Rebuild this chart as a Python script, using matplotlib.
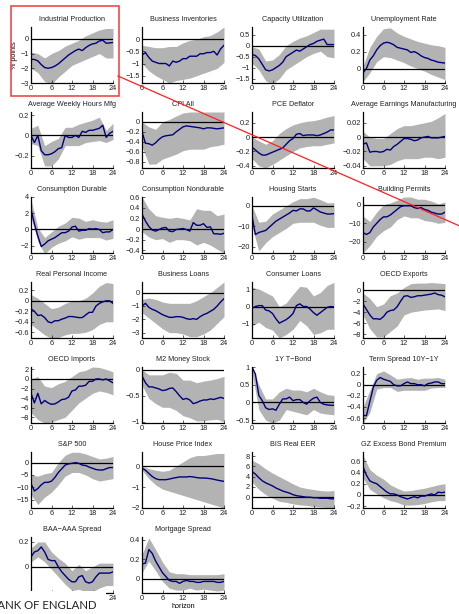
import matplotlib
matplotlib.use("Agg")
import matplotlib.pyplot as plt
from matplotlib.patches import Rectangle
from matplotlib.lines import Line2D

HORIZON = list(range(25))
BAND_H = list(range(0, 25, 2))

TITLES = [
    "Industrial Production", "Business Inventories", "Capacity Utilization", "Unemployment Rate",
    "Average Weekly Hours Mfg", "CPI All", "PCE Deflator", "Average Earnings Manufacturing",
    "Consumption Durable", "Consumption Nondurable", "Housing Starts", "Building Permits",
    "Real Personal Income", "Business Loans", "Consumer Loans", "OECD Exports",
    "OECD Imports", "M2 Money Stock", "1Y T\u2212Bond", "Term Spread 10Y\u22121Y",
    "S&P 500", "House Price Index", "BIS Real EER", "GZ Excess Bond Premium",
    "BAA\u2212AAA Spread", "Mortgage Spread",
]

# median impulse responses, horizons 0..24
IRF = [
    [-1.4, -1.4, -1.5, -1.75, -1.95, -2.0, -1.95, -1.85, -1.7, -1.5, -1.3, -1.1, -0.95, -0.8, -0.7, -0.8, -0.6, -0.45, -0.35, -0.3, -0.15, -0.1, -0.3, -0.28, -0.25],
    [-0.65, -0.55, -0.75, -0.9, -0.95, -1.0, -1.0, -1.0, -1.1, -0.9, -0.95, -0.9, -0.8, -0.8, -0.7, -0.7, -0.7, -0.6, -0.6, -0.55, -0.55, -0.5, -0.65, -0.4, -0.25],
    [-0.4, -0.45, -0.6, -0.85, -1.1, -1.15, -1.1, -1.0, -0.9, -0.75, -0.5, -0.4, -0.3, -0.2, -0.25, -0.15, -0.05, 0.05, 0.1, 0.2, 0.25, 0.3, 0.05, 0.05, 0.05],
    [-0.05, 0.0, 0.1, 0.15, 0.22, 0.27, 0.3, 0.31, 0.3, 0.28, 0.25, 0.24, 0.23, 0.22, 0.19, 0.2, 0.18, 0.15, 0.13, 0.12, 0.1, 0.09, 0.075, 0.07, 0.065],
    [0.0, -0.07, 0.0, -0.15, -0.19, -0.19, -0.18, -0.16, -0.13, -0.12, 0.0, -0.02, -0.02, 0.0, -0.02, 0.04, 0.03, 0.05, 0.05, 0.06, 0.07, 0.1, -0.02, 0.02, 0.04],
    [-0.2, -0.43, -0.44, -0.47, -0.42, -0.35, -0.3, -0.28, -0.27, -0.26, -0.2, -0.15, -0.1, -0.08, -0.09, -0.1, -0.11, -0.12, -0.14, -0.12, -0.12, -0.13, -0.14, -0.13, -0.12],
    [-0.14, -0.18, -0.22, -0.25, -0.25, -0.23, -0.21, -0.19, -0.17, -0.15, -0.1, -0.05, -0.02, 0.04, 0.05, 0.02, 0.03, 0.03, 0.03, 0.02, 0.03, 0.05, 0.07, 0.1, 0.1],
    [-0.01, -0.008, -0.021, -0.02, -0.02, -0.021, -0.02, -0.017, -0.018, -0.013, -0.01, -0.006, -0.002, -0.002, -0.003, -0.005, -0.004, -0.001, 0.0, 0.001, -0.001, -0.001, -0.001, 0.0, 0.001],
    [2.5, 0.7, -0.8, -2.1, -1.8, -1.4, -1.2, -1.0, -0.7, -0.4, -0.4, -0.2, 0.3, 0.4, -0.2, -0.1, -0.1, 0.1, 0.05, 0.1, 0.0, -0.4, -0.3, -0.3, 0.0],
    [0.28, 0.15, 0.05, -0.02, -0.04, -0.01, 0.02, 0.03, -0.04, -0.05, -0.01, 0.0, 0.01, -0.01, -0.04, 0.12, 0.07, 0.07, 0.1, 0.03, 0.04, -0.09, -0.09, -0.1, -0.08],
    [-5, -14, -13, -12.5, -12, -10.5, -9, -7.5, -6.5, -5.5, -4.5, -3.5, -2.2, -2.5, -1.5, -1.5, -2.5, -2.5, -1, -2, -3, -3.5, -4, -4, -3.8],
    [-15, -16, -15, -12, -10, -8, -6.5, -6.5, -5.5, -4, -2.5, -1, -0.5, -0.5, -0.5, -1.5, -2, -1.5, -2.5, -3, -4, -4.5, -5, -5, -4],
    [-0.15, -0.2, -0.28, -0.27, -0.32, -0.4, -0.42, -0.38, -0.38, -0.35, -0.33, -0.3, -0.3, -0.31, -0.32, -0.32, -0.27, -0.22, -0.22, -0.1, -0.05, -0.02, 0.0, 0.0, -0.05],
    [-1.0, -0.8, -1.1, -1.25, -1.35, -1.5, -1.65, -1.75, -1.85, -1.85, -1.8, -1.8, -1.85, -1.95, -2.0, -1.95, -2.0, -1.8, -1.65, -1.55, -1.4, -1.25, -1.0, -0.7, -0.45],
    [-0.1, 0.0, 0.05, 0.05, -0.2, -0.25, -0.4, -0.7, -0.95, -0.85, -0.75, -0.6, -0.4, 0.05, 0.15, 0.0, 0.0, -0.15, -0.35, -0.5, -0.35, -0.2, -0.05, 0.0, -0.02],
    [-2.5, -3.5, -4.5, -5.2, -5.2, -5.3, -4.8, -4.0, -3.7, -3.6, -3.0, -2.0, -1.1, -1.0, -1.3, -1.2, -1.0, -1.0, -0.9, -0.8, -0.7, -0.5, -0.8, -0.9, -1.2],
    [-3.0, -5.0, -3.0, -5.2, -4.5, -5.0, -5.3, -5.2, -4.8, -4.3, -4.2, -3.8, -2.5, -2.3, -1.5, -1.5, -1.3, -0.5, -0.5, 0.0, 0.0, -0.2, 0.0, -0.4, -0.8],
    [-0.12, -0.25, -0.33, -0.33, -0.35, -0.37, -0.4, -0.39, -0.36, -0.35, -0.42, -0.5, -0.57, -0.55, -0.58, -0.65, -0.63, -0.6, -0.58, -0.58, -0.56, -0.57, -0.55, -0.53, -0.55],
    [1.0, 0.8, 0.2, 0.05, -0.15, -0.2, -0.18, -0.22, -0.05, 0.1, 0.1, 0.15, 0.05, 0.08, 0.08, 0.0, -0.05, 0.05, 0.12, 0.15, 0.0, -0.05, -0.07, -0.08, -0.08],
    [-0.55, -0.56, -0.3, -0.05, 0.08, 0.13, 0.1, 0.08, 0.06, 0.0, -0.02, -0.02, 0.02, 0.05, 0.02, 0.02, 0.0, 0.0, -0.02, 0.02, 0.03, 0.05, 0.05, 0.02, 0.02],
    [-8.5, -11.5, -10.5, -9, -8, -8, -7.5, -6, -4, -2.5, -1, -0.5, -0.3, 0, -0.3, -1, -1.2, -1.8, -2.3, -2.8, -3.0, -3.0, -2.5, -2.0, -2.0],
    [-0.1, -0.2, -0.35, -0.5, -0.6, -0.65, -0.65, -0.65, -0.62, -0.58, -0.55, -0.52, -0.52, -0.52, -0.5, -0.52, -0.55, -0.57, -0.57, -0.58, -0.6, -0.63, -0.67, -0.7, -0.73],
    [5.0, 4.5, 3.8, 3.2, 2.8, 2.5, 2.2, 1.8, 1.5, 1.2, 1.0, 0.8, 0.5, 0.3, 0.2, 0.1, 0.0, 0.0, -0.1, -0.1, -0.2, -0.2, -0.2, -0.3, -0.3],
    [0.5, 0.35, 0.25, 0.22, 0.2, 0.15, 0.1, 0.05, 0.02, 0.02, 0.0, -0.03, -0.05, -0.07, -0.05, -0.03, -0.05, -0.02, -0.02, 0.0, 0.02, 0.0, 0.05, 0.04, 0.05],
    [0.08, 0.12, 0.13, 0.16, 0.12, 0.06, 0.05, 0.05, 0.0, -0.04, -0.07, -0.1, -0.12, -0.12, -0.08, -0.07, -0.12, -0.13, -0.12, -0.08, -0.05, -0.05, -0.05, -0.05, -0.04],
    [0.15, 0.16, 0.3, 0.26, 0.18, 0.12, 0.06, 0.02, -0.02, -0.03, -0.03, -0.05, -0.03, -0.02, -0.03, -0.03, -0.04, -0.04, -0.03, -0.03, -0.03, -0.03, -0.04, -0.04, -0.03],
]

# credible band, horizons 0, 2, ..., 24
BAND_LO = [
    [-2.0, -2.3, -2.9, -3.1, -2.6, -2.2, -1.8, -1.6, -1.4, -1.2, -1.0, -1.3, -1.3],
    [-1.0, -1.3, -1.5, -1.65, -1.8, -1.7, -1.65, -1.6, -1.5, -1.4, -1.3, -1.2, -0.95],
    [-0.8, -1.1, -1.6, -1.75, -1.5, -1.1, -0.9, -0.7, -0.5, -0.35, -0.25, -0.5, -0.55],
    [-0.15, -0.05, 0.08, 0.14, 0.13, 0.1, 0.07, 0.03, 0.0, -0.03, -0.07, -0.1, -0.13],
    [-0.08, -0.1, -0.3, -0.3, -0.23, -0.1, -0.1, -0.1, -0.07, -0.06, -0.05, -0.07, -0.04],
    [-0.5, -0.85, -0.85, -0.75, -0.7, -0.65, -0.58, -0.55, -0.55, -0.55, -0.5, -0.48, -0.45],
    [-0.3, -0.4, -0.43, -0.38, -0.32, -0.26, -0.2, -0.15, -0.13, -0.12, -0.12, -0.1, -0.08],
    [-0.03, -0.04, -0.04, -0.04, -0.038, -0.033, -0.03, -0.03, -0.03, -0.028, -0.028, -0.03, -0.028],
    [1.5, -1.5, -3.0, -2.2, -1.7, -1.4, -0.9, -1.2, -1.0, -1.0, -1.0, -1.3, -1.1],
    [-0.05, -0.15, -0.2, -0.18, -0.25, -0.2, -0.2, -0.22, -0.3, -0.25, -0.3, -0.38, -0.45],
    [-10, -22, -18, -15, -13, -11, -8.5, -8, -8, -8, -9.5, -10.5, -10.5],
    [-26, -22, -17, -14, -12, -8, -6, -7, -7, -8.5, -9, -10, -9.5],
    [-0.45, -0.55, -0.65, -0.72, -0.7, -0.65, -0.62, -0.62, -0.6, -0.55, -0.45, -0.4, -0.4],
    [-1.5, -1.9, -2.3, -2.7, -3.0, -3.0, -3.1, -3.3, -3.3, -3.1, -2.8, -2.3, -1.8],
    [-1.1, -0.9, -1.2, -1.35, -1.8, -1.6, -1.3, -0.8, -1.1, -1.6, -1.5, -1.3, -1.3],
    [-4.5, -7.0, -8.5, -8.5, -7.5, -6.5, -4.5, -4.0, -3.8, -3.6, -3.5, -3.4, -3.7],
    [-7.0, -8.5, -9.2, -9.0, -8.5, -8.0, -6.5, -5.0, -4.0, -3.0, -2.5, -2.8, -3.3],
    [-0.3, -0.55, -0.65, -0.72, -0.72, -0.78, -0.88, -0.92, -0.98, -0.98, -0.96, -0.95, -1.0],
    [0.85, -0.2, -0.5, -0.58, -0.5, -0.2, -0.25, -0.3, -0.35, -0.2, -0.3, -0.33, -0.35],
    [-0.69, -0.5, -0.08, -0.05, -0.05, -0.12, -0.1, -0.1, -0.1, -0.1, -0.06, -0.05, -0.05],
    [-13, -17, -14, -12, -9, -5.5, -4, -4, -5, -6.5, -7.5, -7, -6.5],
    [-0.2, -0.6, -0.9, -1.1, -1.2, -1.3, -1.4, -1.5, -1.6, -1.7, -1.8, -1.9, -2.0],
    [3.0, 1.5, 0.5, -0.2, -0.8, -1.0, -1.3, -1.5, -1.6, -1.8, -1.9, -2.0, -2.0],
    [0.3, 0.1, 0.02, -0.05, -0.1, -0.13, -0.18, -0.18, -0.17, -0.15, -0.12, -0.1, -0.1],
    [0.04, 0.08, 0.04, -0.02, -0.08, -0.14, -0.19, -0.18, -0.2, -0.2, -0.17, -0.15, -0.15],
    [0.06, 0.18, 0.08, -0.03, -0.1, -0.12, -0.12, -0.1, -0.12, -0.11, -0.12, -0.13, -0.12],
]

BAND_HI = [
    [-0.9, -1.0, -1.3, -1.0, -0.8, -0.5, -0.3, -0.1, 0.2, 0.4, 0.6, 0.7, 0.7],
    [-0.25, -0.3, -0.35, -0.35, -0.3, -0.3, -0.15, -0.05, 0.0, 0.1, 0.15, 0.3, 0.5],
    [-0.05, -0.15, -0.7, -0.65, -0.4, 0.0, 0.2, 0.35, 0.45, 0.6, 0.75, 0.75, 0.75],
    [0.03, 0.25, 0.38, 0.47, 0.48, 0.42, 0.38, 0.35, 0.32, 0.3, 0.28, 0.27, 0.25],
    [0.07, 0.1, -0.1, -0.06, -0.03, 0.08, 0.08, 0.11, 0.13, 0.15, 0.18, 0.05, 0.12],
    [0.0, -0.1, -0.15, 0.0, 0.05, 0.12, 0.18, 0.2, 0.2, 0.2, 0.2, 0.2, 0.2],
    [0.0, -0.05, -0.1, -0.05, 0.05, 0.12, 0.17, 0.2, 0.22, 0.23, 0.25, 0.28, 0.3],
    [0.008, 0.0, -0.002, -0.002, 0.005, 0.012, 0.016, 0.016, 0.018, 0.02, 0.022, 0.027, 0.033],
    [3.7, 0.2, -1.0, -0.3, 0.4, 0.8, 1.5, 1.4, 1.0, 1.2, 1.0, 0.9, 1.2],
    [0.6, 0.38, 0.25, 0.22, 0.2, 0.22, 0.2, 0.17, 0.38, 0.35, 0.35, 0.25, 0.28],
    [0, -8, -7.5, -4, -2, 0, 2, 3.5, 3.5, 4.2, 3, 1.5, 1.5],
    [-6, -9, -4, 0, 1, 2.5, 4.2, 4.2, 3, 3, 2, 0.5, 1.5],
    [0.12, 0.05, -0.05, -0.15, -0.12, -0.05, 0.0, 0.0, 0.05, 0.15, 0.28, 0.35, 0.33],
    [-0.5, -0.4, -0.5, -0.7, -0.8, -0.8, -0.8, -0.8, -0.6, -0.3, 0.0, 0.4, 0.8],
    [1.1, 1.0, 0.8, 0.6, 0.0, 0.2, 0.7, 1.15, 1.1, 0.6, 0.8, 1.2, 1.38],
    [-0.5, -1.5, -3.0, -2.5, -1.0, -0.5, 0.5, 1.2, 1.3, 1.3, 1.4, 1.3, 1.2],
    [0.0, 0.5, -1.5, -1.8, -1.0, -0.5, 0.5, 1.5, 1.8, 2.5, 2.4, 2.0, 1.5],
    [0.0, -0.1, -0.1, -0.1, -0.05, -0.07, -0.2, -0.2, -0.25, -0.22, -0.2, -0.17, -0.13],
    [1.0, 0.5, 0.1, 0.1, 0.3, 0.4, 0.35, 0.35, 0.3, 0.4, 0.3, 0.22, 0.2],
    [-0.4, -0.1, 0.2, 0.25, 0.18, 0.1, 0.12, 0.13, 0.1, 0.12, 0.12, 0.13, 0.1],
    [-5, -5.5, -4.5, -4, 0, 3, 4.2, 4.2, 3.5, 2.5, 1.5, 1.8, 2.5],
    [0.0, -0.12, -0.2, -0.25, -0.2, 0.0, 0.2, 0.4, 0.5, 0.5, 0.55, 0.6, 0.6],
    [7.2, 6.5, 5.5, 4.7, 4.0, 3.3, 2.6, 2.0, 1.7, 1.5, 1.3, 1.2, 1.3],
    [0.7, 0.45, 0.35, 0.28, 0.18, 0.12, 0.07, 0.08, 0.1, 0.12, 0.15, 0.18, 0.2],
    [0.15, 0.2, 0.2, 0.12, 0.07, 0.03, -0.03, 0.02, -0.03, 0.0, 0.03, 0.03, 0.03],
    [0.25, 0.42, 0.3, 0.17, 0.07, 0.05, 0.05, 0.04, 0.04, 0.04, 0.04, 0.04, 0.05],
]

YLIMS = [
    (-3, 0.8), (-1.8, 0.5), (-1.7, 0.85), (-0.17, 0.49),
    (-0.32, 0.23), (-0.93, 0.2), (-0.43, 0.35), (-0.043, 0.035),
    (-2.9, 4), (-0.45, 0.6), (-23, 4.3), (-26, 4.2),
    (-0.71, 0.36), (-3.4, 0.8), (-1.8, 1.4), (-8.7, 1.5),
    (-9.2, 2.5), (-1.02, 0.05), (-0.58, 1.0), (-0.69, 0.32),
    (-18.4, 4.3), (-2, 0.67), (-2.1, 8.8), (-0.23, 0.76),
    (-0.21, 0.24), (-0.15, 0.43),
]

YTICKS = [
    [-3, -2, -1, 0], [-1.5, -1, -0.5, 0], [-1.5, -1, -0.5, 0, 0.5], [0, 0.2, 0.4],
    [-0.2, 0, 0.2], [-0.8, -0.6, -0.4, -0.2, 0], [-0.4, -0.2, 0, 0.2], [-0.04, -0.02, 0, 0.02],
    [-2, 0, 2, 4], [-0.4, -0.2, 0, 0.2, 0.4, 0.6], [-20, -10, 0], [-20, -10, 0],
    [-0.6, -0.4, -0.2, 0, 0.2], [-3, -2, -1, 0], [-1, 0, 1], [-8, -6, -4, -2, 0],
    [-8, -6, -4, -2, 0, 2], [-1, -0.5, 0], [-0.5, 0, 0.5, 1], [-0.6, -0.4, -0.2, 0, 0.2],
    [-15, -10, -5, 0], [-2, -1, 0], [0, 2, 4, 6, 8], [-0.2, 0, 0.2, 0.4, 0.6],
    [-0.2, 0, 0.2], [0, 0.2, 0.4],
]

XTICKS = [0, 6, 12, 18, 24]

W, H = 459, 614
COL_LEFT = [31, 142, 252, 363]
ROW_TOP = [27 + 85 * i for i in range(7)]
AX_W, AX_H = 82, 56

plt.rcParams["font.family"] = ["Liberation Sans", "DejaVu Sans"]


def fmt(v):
    return ("%g" % v).replace("-", "\u2212")


def draw_panel(ax, k):
    ax.fill_between(BAND_H, BAND_LO[k], BAND_HI[k], color="#b3b3b3", lw=0)
    ax.axhline(0, color="black", lw=0.9)
    ax.plot(HORIZON, IRF[k], color="#000080", lw=1.0)
    ax.set_xlim(0, 24)
    ax.set_ylim(*YLIMS[k])
    ax.set_xticks(XTICKS)
    ax.set_yticks(YTICKS[k])
    ax.set_yticklabels([fmt(v) for v in YTICKS[k]])
    ax.set_title(TITLES[k], fontsize=5.2, pad=4, color="#222222")
    for side in ("top", "right"):
        ax.spines[side].set_visible(False)
    for side in ("left", "bottom"):
        ax.spines[side].set_linewidth(0.9)
    ax.tick_params(direction="in", length=2, width=0.5, labelsize=5.3, pad=1.5, colors="#222222")


def main():
    fig = plt.figure(figsize=(W / 100, H / 100), dpi=100)
    for k in range(len(TITLES)):
        r, c = divmod(k, 4)
        l, t = COL_LEFT[c], ROW_TOP[r]
        ax = fig.add_axes([l / W, 1 - (t + AX_H) / H, AX_W / W, AX_H / H])
        draw_panel(ax, k)
        if k == 0:
            ax.set_ylabel("% points", fontsize=5.2, labelpad=2)
        if k == 24:
            # lower part of this panel sits under the logo strip
            ax.set_xticklabels(["", "", "", "", "24"])
            ax.set_yticklabels(["", "0", "0.2"])
        if k == 25:
            ax.set_xlabel("horizon", fontsize=5.2, labelpad=1)

    # highlight box and pointer line
    fig.add_artist(Rectangle((11 / W, 1 - 96 / H), 108 / W, 90 / H, transform=fig.transFigure,
                             fill=False, edgecolor="#f04848", lw=1.2))
    fig.add_artist(Line2D([118 / W, 462 / W], [1 - 76 / H, 1 - 227 / H], transform=fig.transFigure,
                          color="#ff2020", lw=0.9))

    # logo strip bottom left
    fig.add_artist(Rectangle((0, 0), 106 / W, 23 / H, transform=fig.transFigure,
                             facecolor="white", edgecolor="none", zorder=10))
    fig.text(-10 / W, 1 - 609 / H, "BANK OF ENGLAND", fontsize=8.2, family="Lato",
             color="#222222", ha="left", va="baseline", zorder=11)

    fig.savefig("out.png", dpi=100)


if __name__ == "__main__":
    main()
